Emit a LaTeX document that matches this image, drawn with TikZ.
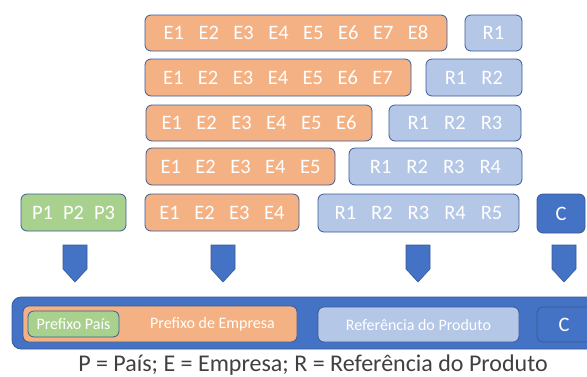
\documentclass[tikz,border=0pt]{standalone}
\usepackage{fontspec}
\setmainfont{Carlito}
\definecolor{orng}{HTML}{F4B183}
\definecolor{lblue}{HTML}{B4C7E7}
\definecolor{grn}{HTML}{A9D18E}
\definecolor{dblue}{HTML}{4472C4}
\definecolor{edge}{HTML}{3A5A96}
\definecolor{captxt}{HTML}{404040}
\newcommand\sepE{\hspace{14.5pt}}
\newcommand\sepR{\hspace{15pt}}
\newcommand\sepP{\hspace{10pt}}
\newcommand\bx[7]{\node[#2, minimum width={#5-#3}, minimum height={#6-#4}] (#1) at ({(#3+#5)/2},{(#4+#6)/2}) {#7};}
\begin{document}
\begin{tikzpicture}[x=1pt,y=-1pt,
  box/.style={draw=edge, line width=0.8pt, rounded corners=6pt, inner sep=0pt, outer sep=0pt, text=white, font=\fontsize{20.5}{24}\selectfont},
  ebox/.style={box, fill=orng},
  rbox/.style={box, fill=lblue},
  pbox/.style={box, fill=grn},
  cbox/.style={box, fill=dblue},
  sbox/.style={box, font=\fontsize{16}{19}\selectfont},
  barbox/.style={draw=edge, line width=0.8pt, fill=dblue, rounded corners=9pt, inner sep=0pt, outer sep=0pt},
  darrow/.pic={\filldraw[fill=dblue, draw=edge, line width=0.6pt] (-12,0) -- (12,0) -- (12,24) -- (0,37) -- (-12,24) -- cycle;}
]
\useasboundingbox (0,0) rectangle (587,376);
\clip (0,0) rectangle (587,376);
% row 1
\bx{e8}{ebox}{145}{15}{447}{51}{E1\sepE E2\sepE E3\sepE E4\sepE E5\sepE E6\sepE E7\sepE E8}
\bx{r1}{rbox}{465}{15}{522}{51}{R1}
% row 2
\bx{e7}{ebox}{145}{59}{411}{96}{E1\sepE E2\sepE E3\sepE E4\sepE E5\sepE E6\sepE E7}
\bx{r2}{rbox}{426}{59}{522}{96}{R1\sepR R2}
% row 3
\bx{e6}{ebox}{146}{105}{372}{141}{E1\sepE E2\sepE E3\sepE E4\sepE E5\sepE E6}
\bx{r3}{rbox}{389}{105}{521}{141}{R1\sepR R2\sepR R3}
% row 4
\bx{e5}{ebox}{146}{148}{335}{185}{E1\sepE E2\sepE E3\sepE E4\sepE E5}
\bx{r4}{rbox}{349}{148}{522}{185}{R1\sepR R2\sepR R3\sepR R4}
% row 5
\bx{p3}{pbox}{21}{194}{126}{231}{P1\sepP P2\sepP P3}
\bx{e4}{ebox}{145}{194}{299}{231}{E1\sepE E2\sepE E3\sepE E4}
\bx{r5}{rbox}{318}{194}{519}{232}{R1\sepR R2\sepR R3\sepR R4\sepR R5}
\bx{c}{cbox}{537}{194}{585}{233}{C}
% arrows
\pic at (75,245) {darrow};
\pic at (223,245) {darrow};
\pic at (418,245) {darrow};
\pic at (564,245) {darrow};
% bottom bar
\bx{bar}{barbox}{12}{297}{600}{349}{}
\bx{pe}{sbox, fill=orng}{23}{306}{297}{342}{\hspace{105pt}Prefixo de Empresa}
\bx{pp}{sbox, fill=grn}{28}{311}{119}{337}{Prefixo País}
\bx{ref}{sbox, fill=lblue}{318}{307}{519}{342}{Referência do Produto}
\bx{cc}{sbox, fill=dblue, font=\fontsize{20.5}{24}\selectfont}{537}{307}{597}{342}{\hspace{-6pt}C\hspace{27pt}}
% caption
\node[anchor=base, text=captxt, font=\fontsize{24}{28}\selectfont, inner sep=0pt] (cap) at (313,371) {P = País; E = Empresa; R = Referência do Produto};
\end{tikzpicture}
\end{document}
